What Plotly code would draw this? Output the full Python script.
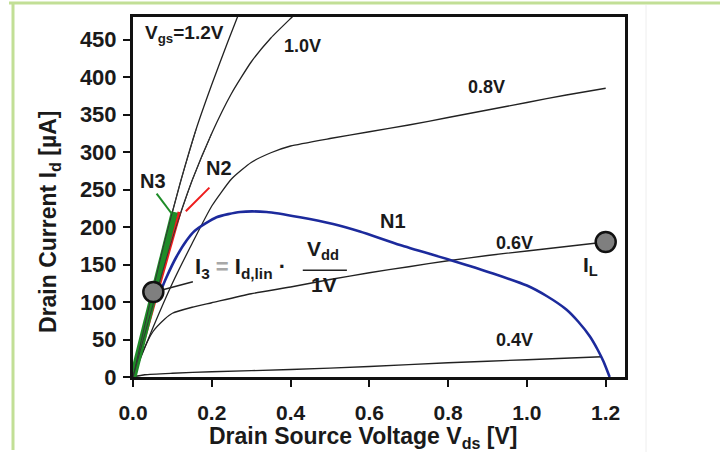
import plotly.graph_objects as go

# ---------------- data ----------------
vds_12 = [0, 0.04, 0.08, 0.12, 0.16, 0.20, 0.24, 0.28]
id_12 = [0, 92, 180, 259, 330, 390, 446, 500]

vds_10 = [0, 0.05, 0.10, 0.15, 0.20, 0.25, 0.30, 0.35, 0.40, 0.42]
id_10 = [0, 95, 185, 262, 325, 378, 420, 452, 478, 488]

vds_08 = [0, 0.05, 0.10, 0.15, 0.20, 0.25, 0.30, 0.35, 0.40, 0.50, 0.60, 0.70, 0.80, 0.90, 1.00, 1.10, 1.20]
id_08 = [0, 65, 125, 178, 228, 264, 286, 299, 308, 318, 327, 336, 346, 356, 366, 376, 385]

vds_06 = [0, 0.02, 0.05, 0.08, 0.10, 0.15, 0.20, 0.30, 0.40, 0.50, 0.60, 0.70, 0.80, 0.90, 1.00, 1.10, 1.20]
id_06 = [0, 28, 60, 77, 85, 93, 99, 111, 120, 130, 139, 147, 155, 162, 168, 174, 180]

vds_04 = [0, 0.03, 0.10, 0.20, 0.40, 0.60, 0.80, 1.00, 1.19]
id_04 = [0, 3, 5, 7, 10, 14, 19, 23, 27]

vds_n1 = [0.065, 0.085, 0.110, 0.136, 0.157, 0.212, 0.272, 0.339, 0.424, 0.508, 0.576,
          0.678, 0.805, 0.914, 1.00, 1.05, 1.10, 1.13, 1.16, 1.18, 1.195, 1.21]
id_n1 = [108, 133, 160, 182, 195, 213, 220, 220, 213, 204, 194, 176, 156, 138, 122, 108,
         90, 74, 54, 36, 20, 0]

vds_n2 = [0, 0.118]
id_n2 = [0, 220]
vds_n3 = [0, 0.105]
id_n3 = [0, 220]

# leader lines
n2_lead_x = [0.134, 0.194]
n2_lead_y = [221, 252.5]
n3_lead_x = [0.060, 0.098]
n3_lead_y = [244.5, 218]
i3_lead_x = [0.052, 0.152]
i3_lead_y = [113, 127]
frac_x = [0.431, 0.543]
frac_y = [142.3, 142.3]

# marker points
pt_vds = [0.0516, 1.2]
pt_id = [113.3, 180]

x_ticks = [0.0, 0.2, 0.4, 0.6, 0.8, 1.0, 1.2]
x_ticklabels = ["0.0", "0.2", "0.4", "0.6", "0.8", "1.0", "1.2"]
y_ticks = [0, 50, 100, 150, 200, 250, 300, 350, 400, 450]
y_ticklabels = [str(v) for v in y_ticks]

FONT = "Liberation Sans, Arial, Helvetica, sans-serif"
TXT = "#1a1a1a"

fig = go.Figure()

for xs, ys in [(vds_12, id_12), (vds_10, id_10), (vds_08, id_08), (vds_06, id_06), (vds_04, id_04)]:
    fig.add_trace(go.Scatter(x=xs, y=ys, mode="lines",
                             line=dict(shape="spline", smoothing=0.5, color="#222222", width=1.3),
                             hoverinfo="skip", showlegend=False))

fig.add_trace(go.Scatter(x=vds_n1, y=id_n1, mode="lines",
                         line=dict(color="#1c2a9c", width=2.6, shape="spline", smoothing=0.6),
                         showlegend=False))
fig.add_trace(go.Scatter(x=vds_n2, y=id_n2, mode="lines", line=dict(color="#ee1c1c", width=4),
                         showlegend=False))
fig.add_trace(go.Scatter(x=vds_n3, y=id_n3, mode="lines", line=dict(color="#1e8c28", width=7),
                         showlegend=False))
# thin curves drawn again over the thick lines near the origin
for xs, ys in [(vds_12, id_12), (vds_10, id_10)]:
    fig.add_trace(go.Scatter(x=xs[:5], y=ys[:5], mode="lines",
                             line=dict(shape="spline", smoothing=0.5, color="#333333", width=1),
                             showlegend=False))

fig.add_trace(go.Scatter(x=n2_lead_x, y=n2_lead_y, mode="lines", line=dict(color="#ee1c1c", width=2),
                         showlegend=False))
fig.add_trace(go.Scatter(x=n3_lead_x, y=n3_lead_y, mode="lines", line=dict(color="#1e8c28", width=2),
                         showlegend=False))
fig.add_trace(go.Scatter(x=i3_lead_x, y=i3_lead_y, mode="lines", line=dict(color="#222222", width=1.5),
                         showlegend=False))
fig.add_trace(go.Scatter(x=frac_x, y=frac_y, mode="lines", line=dict(color="#222222", width=1.5),
                         showlegend=False))
fig.add_trace(go.Scatter(x=pt_vds, y=pt_id, mode="markers",
                         marker=dict(size=20, color="#7f7f7f", line=dict(color="#111111", width=2.5)),
                         cliponaxis=False, showlegend=False))


def ann(x, y, text, size=18, xanchor="center", yanchor="middle", xref="x", yref="y", angle=0):
    fig.add_annotation(x=x, y=y, xref=xref, yref=yref, text=text, showarrow=False,
                       xanchor=xanchor, yanchor=yanchor, textangle=angle,
                       font=dict(family=FONT, size=size, color=TXT, weight="bold"))


ann(0.0254, 458, "V<sub>gs</sub>=1.2V", size=19, xanchor="left")
ann(0.430, 442, "1.0V")
ann(0.898, 387, "0.8V")
ann(0.9695, 179, "0.6V")
ann(0.9695, 49, "0.4V")
ann(1.162, 148, "I<sub>L</sub>", size=21)
ann(0.660, 208, "N1", size=20)
ann(0.2175, 279, "N2", size=20)
ann(0.0508, 262, "N3", size=20)
ann(0.274, 145, "I<sub>3</sub> <span style='color:#a8a8a8'>=</span> I<sub>d,lin</sub> ·", size=22)
ann(0.482, 169, "V<sub>dd</sub>", size=21)
ann(0.485, 124, "1V", size=21)

# axis titles
ann(0.4695, -0.1667, "Drain Source Voltage V<sub>ds</sub> [V]", size=23, xref="paper", yref="paper")
ann(-0.1687, 0.4306, "Drain Current I<sub>d</sub> [µA]", size=23, xref="paper", yref="paper", angle=-90)

# outer decorative frame
GREEN = "#c2df96"
fig.add_shape(type="line", xref="paper", yref="paper", x0=-0.252, x1=1.2, y0=1.0389, y1=1.0389,
              line=dict(color=GREEN, width=3))
fig.add_shape(type="line", xref="paper", yref="paper", x0=-0.2439, x1=-0.2439, y0=1.0389, y1=-0.2028,
              line=dict(color=GREEN, width=3))
fig.add_shape(type="line", xref="paper", yref="paper", x0=1.0427, x1=1.0427, y0=1.033, y1=-0.21,
              line=dict(color="#eeeeee", width=1))

axis_common = dict(showline=True, linecolor="#111111", linewidth=3, mirror=True,
                   ticks="outside", ticklen=7, tickwidth=2, tickcolor="#111111",
                   showgrid=False, zeroline=False, automargin=False)

fig.update_layout(
    width=720, height=452,
    margin=dict(l=133, r=95, t=17, b=75, autoexpand=False),
    paper_bgcolor="white", plot_bgcolor="white",
    showlegend=False,
    xaxis=dict(range=[0, 1.249], tickvals=x_ticks, ticktext=x_ticklabels, ticklabelstandoff=8,
               tickfont=dict(family=FONT, size=21, color=TXT, weight="bold"), **axis_common),
    yaxis=dict(range=[0, 480], tickvals=y_ticks, ticktext=y_ticklabels, ticklabelstandoff=2,
               tickfont=dict(family=FONT, size=22, color=TXT, weight="bold"), **axis_common),
)

fig.write_html("out.html", config={"displayModeBar": False},
               post_script="document.body.style.margin='0';document.body.style.overflow='hidden';")
